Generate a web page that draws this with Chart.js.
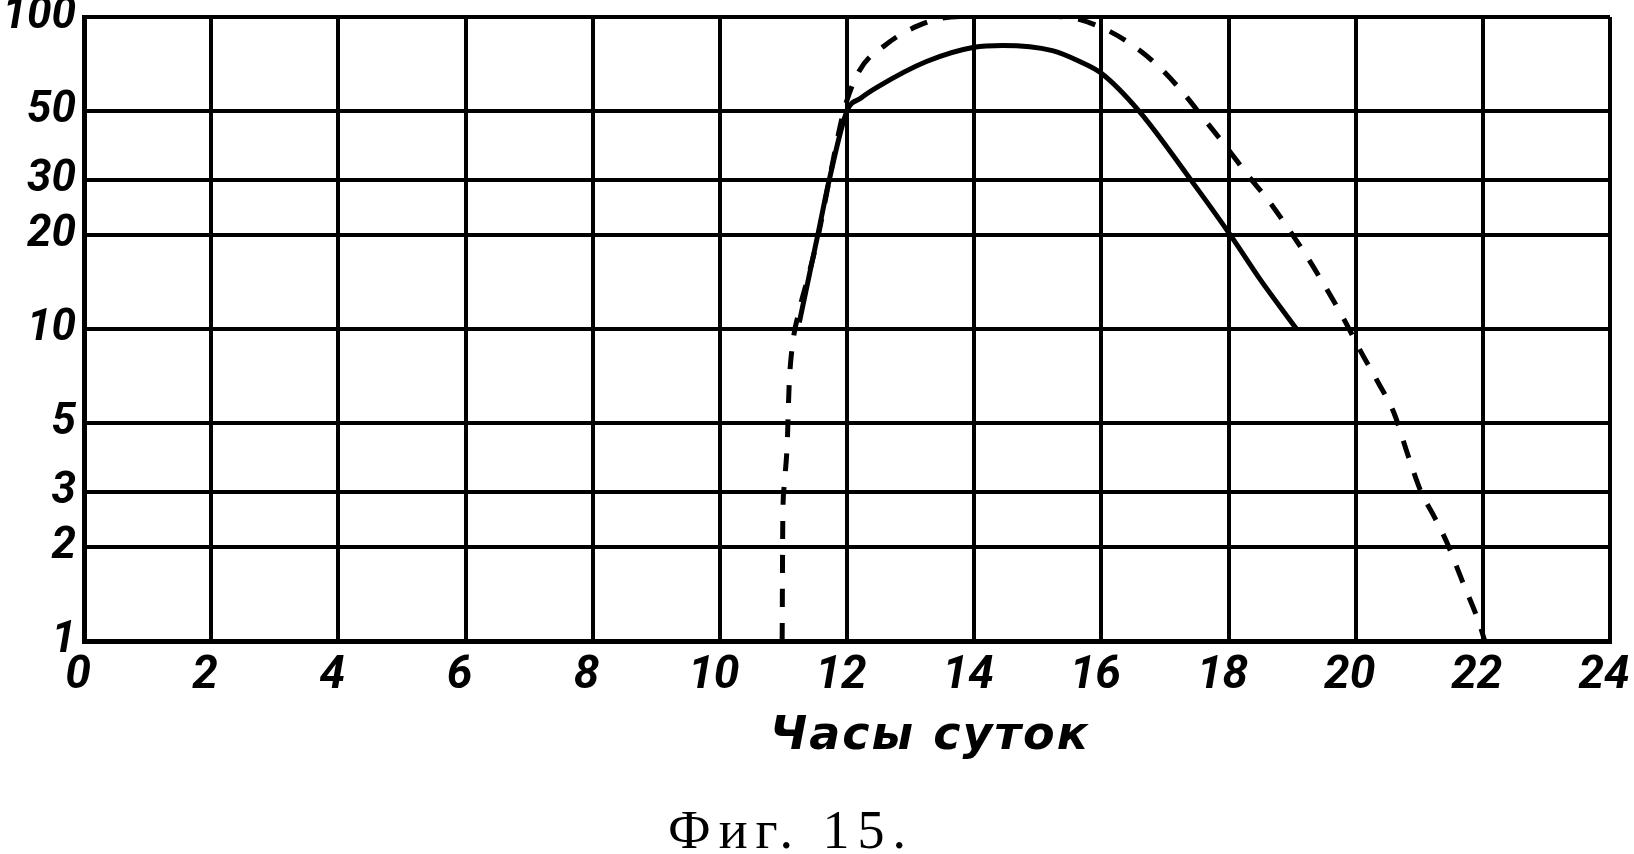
<!DOCTYPE html>
<html>
<head>
<meta charset="utf-8">
<script src="https://cdn.jsdelivr.net/npm/chart.js@4.4.0/dist/chart.umd.min.js"></script>
<style>
  html, body { margin: 0; padding: 0; background: #fff; }
  #wrap { width: 1634px; height: 854px; }
</style>
</head>
<body>
<div id="wrap"><canvas id="fig15"></canvas></div>
<script>
// ticks
const hourTicks = [0, 2, 4, 6, 8, 10, 12, 14, 16, 18, 20, 22, 24];
const valueTicks = [1, 2, 3, 5, 10, 20, 30, 50, 100];

// solid curve
const solidHours  = [11.25, 11.54, 11.72, 12.0, 12.22, 12.47, 13.25, 14.0, 14.45, 15.23, 15.66, 16.0, 16.59, 17.41, 18.03, 18.5, 19.07];
const solidValues = [10.5, 20, 30, 50, 55, 59.5, 72, 80, 81, 78, 72, 66, 50, 30, 20, 14.4, 10];

// dashed curve
const dashedHours  = [10.98, 10.99, 11.01, 11.06, 11.09, 11.14, 11.25, 11.4, 11.55, 11.72, 11.95, 12.19, 12.61, 13.13, 13.63, 14.5,
                      15.44, 15.98, 16.48, 16.9, 17.26, 17.62, 17.98, 18.31, 18.63, 18.96, 19.23, 19.5, 19.81, 20.09, 20.36, 20.6,
                      20.83, 21.03, 21.21, 21.43, 21.67, 21.95, 22.03];
const dashedValues = [1.0, 2.4, 3.1, 4.3, 6.6, 8.8, 11.5, 15, 20, 30, 50, 67, 81.5, 94, 100, 101,
                      100, 93, 81.5, 69.5, 58, 47, 38, 31, 25.8, 20.7, 17.1, 13.9, 10.8, 8.4, 6.7, 5.4,
                      3.9, 3.0, 2.56, 2.08, 1.57, 1.13, 1.0];

const xTitle = 'Часы суток';
const caption = 'Фиг. 15.';

const toPoints = (xs, ys) => xs.map((x, i) => ({ x: x, y: ys[i] }));

const tickFamily = 'Roboto, "DejaVu Sans", sans-serif';

// подписи под графиком
const textBelow = {
  id: 'textBelow',
  afterDraw(chart) {
    const ctx = chart.ctx;
    ctx.save();
    ctx.fillStyle = '#000';
    ctx.textBaseline = 'alphabetic';
    ctx.font = 'italic bold 46px "DejaVu Sans", sans-serif';
    ctx.textAlign = 'center';
    ctx.letterSpacing = '2px';
    ctx.fillText(xTitle, 930, 749);
    ctx.font = '54px "Liberation Serif", serif';
    ctx.textAlign = 'left';
    ctx.letterSpacing = '8px';
    ctx.fillText(caption, 668, 848);
    ctx.restore();
  }
};

new Chart(document.getElementById('fig15').getContext('2d'), {
  type: 'line',
  data: {
    datasets: [
      {
        data: toPoints(solidHours, solidValues),
        borderColor: '#000',
        borderWidth: 5,
        pointRadius: 0,
        cubicInterpolationMode: 'monotone',
        fill: false,
      },
      {
        data: toPoints(dashedHours, dashedValues),
        borderColor: '#000',
        borderWidth: 5,
        borderDash: [18, 16],
        pointRadius: 0,
        cubicInterpolationMode: 'monotone',
        fill: false,
      },
    ],
  },
  options: {
    responsive: true,
    maintainAspectRatio: false,
    animation: false,
    devicePixelRatio: 1,
    layout: { padding: { left: 0, top: 17, right: 24, bottom: 154 } },
    plugins: { legend: { display: false }, tooltip: { enabled: false } },
    scales: {
      x: {
        type: 'linear',
        min: 0,
        max: 24,
        afterBuildTicks: (scale) => { scale.ticks = hourTicks.map(v => ({ value: v })); },
        afterFit: (scale) => {
          scale.height = 59;
          scale.paddingLeft = 0;
          scale.paddingRight = 0;
        },
        ticks: {
          color: '#000',
          padding: 12,
          labelOffset: -6,
          maxRotation: 0,
          autoSkip: false,
          font: { family: tickFamily, size: 46, style: 'italic', weight: 'bold', lineHeight: 1 },
        },
        grid: { color: '#000', lineWidth: 4, drawTicks: false },
        border: { color: '#000', width: 5 },
      },
      y: {
        type: 'logarithmic',
        min: 1,
        max: 100,
        afterBuildTicks: (scale) => { scale.ticks = valueTicks.map(v => ({ value: v })); },
        afterFit: (scale) => {
          scale.width = 84;
          scale.paddingTop = 0;
          scale.paddingBottom = 0;
        },
        ticks: {
          color: '#000',
          padding: 8,
          autoSkip: false,
          callback: (value) => String(value),
          font: { family: tickFamily, size: 44, style: 'italic', weight: 'bold', lineHeight: 1 },
        },
        grid: { color: '#000', lineWidth: 4, drawTicks: false },
        border: { color: '#000', width: 5 },
      },
    },
  },
  plugins: [textBelow],
});
</script>
</body>
</html>
